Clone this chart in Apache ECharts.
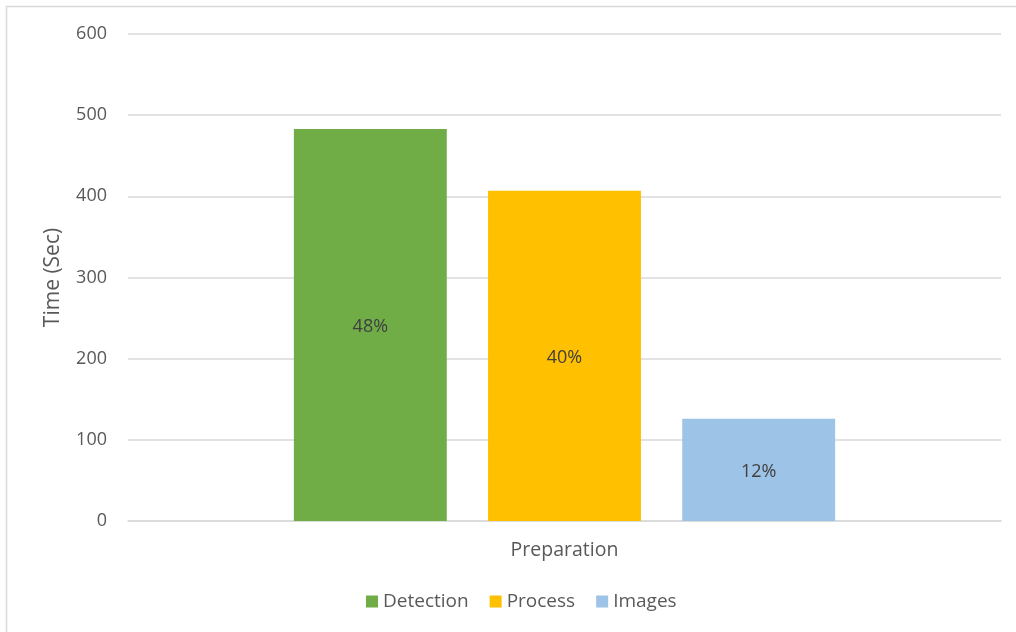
<!DOCTYPE html>
<html>
<head>
<meta charset="utf-8">
<script src="https://cdn.jsdelivr.net/npm/echarts@6/dist/echarts.min.js"></script>
<style>
  html, body { margin: 0; padding: 0; background: #ffffff; }
  #chart { width: 1016px; height: 632px; }
</style>
</head>
<body>
<div id="chart"></div>
<script>
// Time spent per stage of the preparation step
const categories = ['Preparation'];
const seriesNames = ['Detection', 'Process', 'Images'];
const detectionTime = [483];
const processTime = [407];
const imagesTime = [126];
const yTicks = [0, 100, 200, 300, 400, 500, 600];

const colors = ['#70ad47', '#ffc000', '#9dc3e6'];
const seriesData = [detectionTime, processTime, imagesTime];

// Share of the total time, shown inside each bar
const total = seriesData.reduce((s, arr) => s + arr[0], 0);
const fontFamily = '"Open Sans", "Liberation Sans", sans-serif';

const chart = echarts.init(document.getElementById('chart'));

chart.setOption({
  animation: false,
  textStyle: { fontFamily: fontFamily },
  graphic: [
    { type: 'line', shape: { x1: 6.5, y1: 6, x2: 6.5, y2: 632 }, style: { stroke: '#d9d9d9', lineWidth: 1.5 } },
    { type: 'line', shape: { x1: 6, y1: 6.5, x2: 1016, y2: 6.5 }, style: { stroke: '#d9d9d9', lineWidth: 1.5 } }
  ],
  grid: { left: 128, right: 15, top: 34, bottom: 111 },
  legend: {
    bottom: 16,
    left: 361,
    itemWidth: 12,
    itemHeight: 12,
    itemGap: 21,
    icon: 'rect',
    textStyle: { color: '#595959', fontSize: 19, fontFamily: fontFamily },
    data: seriesNames
  },
  xAxis: {
    type: 'category',
    data: categories,
    axisLine: { lineStyle: { color: '#d9d9d9', width: 1.5 } },
    axisTick: { show: false },
    axisLabel: { color: '#595959', fontSize: 19.5, margin: 19 }
  },
  yAxis: {
    type: 'value',
    min: yTicks[0],
    max: yTicks[yTicks.length - 1],
    interval: yTicks[1] - yTicks[0],
    name: 'Time (Sec)',
    nameLocation: 'middle',
    nameRotate: 90,
    nameGap: 64,
    nameTextStyle: { color: '#595959', fontSize: 21 },
    axisLine: { show: false },
    axisTick: { show: false },
    axisLabel: { color: '#595959', fontSize: 18, margin: 21 },
    splitLine: { lineStyle: { color: '#d9d9d9', width: 1.5 } }
  },
  series: seriesNames.map((name, i) => ({
    name: name,
    type: 'bar',
    data: seriesData[i],
    barGap: '27%',
    barCategoryGap: '38%',
    itemStyle: { color: colors[i] },
    label: {
      show: true,
      position: 'inside',
      offset: [0, 2],
      color: '#404040',
      fontSize: 18,
      formatter: p => Math.round(p.value / total * 100) + '%'
    }
  }))
});
</script>
</body>
</html>
